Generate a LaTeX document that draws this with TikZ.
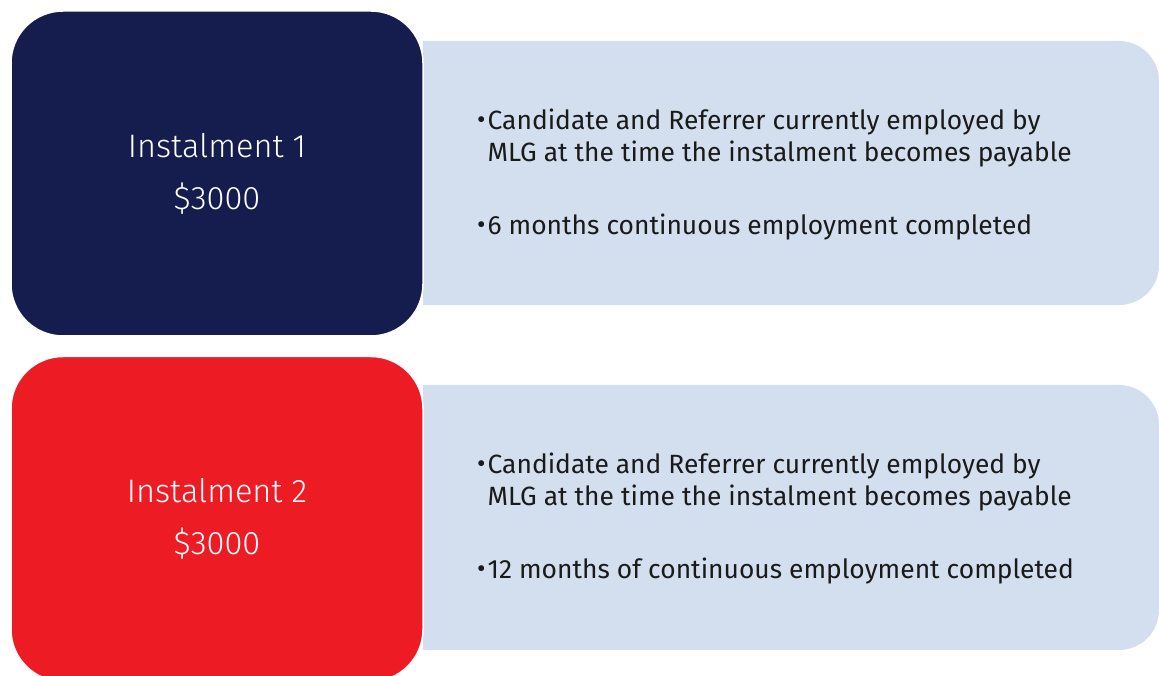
\documentclass[tikz,border=0pt]{standalone}
\usepackage{fontspec}
\setmainfont{Fira Sans}
\newfontfamily\lightfont{Fira Sans Light}
\usetikzlibrary{positioning}
\definecolor{mlgnavy}{HTML}{151C4E}
\definecolor{mlgred}{HTML}{ED1C24}
\definecolor{mlgpale}{HTML}{D3DFEE}
\definecolor{mlgtext}{HTML}{1A1A1A}
\newcommand{\bul}{\raisebox{1pt}{\fontsize{26}{26}\selectfont\textbullet}}
\tikzset{
    amount/.style={rectangle,rounded corners=52pt,draw=white,line width=1.5pt,minimum width=412pt,minimum height=325pt,inner sep=0pt,align=center,text=white,font=\lightfont\fontsize{32.5}{52}\selectfont},
    terms/.style={fill=mlgpale},
    termtext/.style={anchor=west,inner sep=0pt,text=mlgtext,font=\fontsize{26.4}{32}\selectfont}
}

\begin{document}
\begin{tikzpicture}[x=1pt,y=1pt]
\useasboundingbox (0,0) rectangle (1159,676);
% pale panels, square on the left, round on the right
\fill[terms] (423,635) [rounded corners=40pt] -- (1159,635) -- (1159,371) [sharp corners] -- (423,371) -- cycle;
\fill[terms] (423,291) [rounded corners=40pt] -- (1159,291) -- (1159,26) [sharp corners] -- (423,26) -- cycle;

\node[amount,fill=mlgnavy] (inst1) at (217,502.5) {Instalment 1\\\$3000};
\node[amount,fill=mlgred,below=19pt of inst1] (inst2) {Instalment 2\\\$3000};

\node[termtext] (terms1) at (477,500) {\begin{tabular}{@{}l@{\hspace{2pt}}l@{}}
\bul & Candidate and Referrer currently employed by\\
     & MLG at the time the instalment becomes payable\\[41pt]
\bul & 6 months continuous employment completed
\end{tabular}};
\node[termtext] (terms2) at (477,156) {\begin{tabular}{@{}l@{\hspace{2pt}}l@{}}
\bul & Candidate and Referrer currently employed by\\
     & MLG at the time the instalment becomes payable\\[41pt]
\bul & 12 months of continuous employment completed
\end{tabular}};
\end{tikzpicture}
\end{document}
